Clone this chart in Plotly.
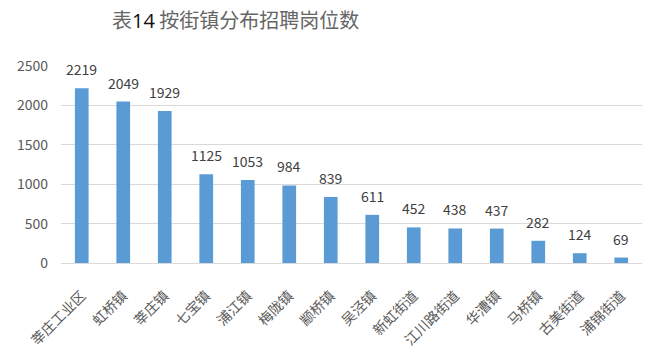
import plotly.graph_objects as go

categories = ["莘庄工业区", "虹桥镇", "莘庄镇", "七宝镇", "浦江镇", "梅陇镇", "颛桥镇",
              "吴泾镇", "新虹街道", "江川路街道", "华漕镇", "马桥镇", "古美街道", "浦锦街道"]
values = [2219, 2049, 1929, 1125, 1053, 984, 839, 611, 452, 438, 437, 282, 124, 69]
y_ticks = [0, 500, 1000, 1500, 2000, 2500]

W, H = 660, 357
L, R, T, B = 61, 18, 66, 94

fig = go.Figure(go.Bar(
    x=categories, y=values,
    marker=dict(color="#5B9BD5", line=dict(width=0)),
    hoverinfo="x+y",
))

label_annots = [
    dict(x=c, y=v, xref="x", yref="y", text=str(v), showarrow=False,
         yanchor="middle", yshift=19,
         font=dict(family="Noto Sans CJK SC, Noto Sans, sans-serif", size=14, color="#404040"))
    for c, v in zip(categories, values)
]

title_annot = dict(
    text="表<span style='color:#111111;font-family:Open Sans, sans-serif'>14</span> 按街镇分布招聘岗位数",
    x=(235 - L) / (W - L - R), y=1 + (T - 20) / (H - T - B),
    xref="paper", yref="paper", xanchor="center", yanchor="middle", showarrow=False,
    font=dict(size=20, color="#666666", family="Noto Sans CJK SC, sans-serif"),
)

fig.update_layout(
    width=W, height=H,
    margin=dict(l=L, r=R, t=T, b=B, autoexpand=False),
    paper_bgcolor="white", plot_bgcolor="white",
    bargap=0.67,
    showlegend=False,
    font=dict(family="Noto Sans CJK SC, sans-serif", color="#595959"),
    xaxis=dict(tickangle=-45, tickfont=dict(size=14, color="#595959"),
               showline=True, linecolor="#D9D9D9", linewidth=1, ticks="",
               ticklabelstandoff=18),
    yaxis=dict(range=[0, 2500], tickvals=y_ticks, showgrid=True, gridcolor="#D9D9D9",
               gridwidth=1, zeroline=False, tickfont=dict(size=14, color="#595959"),
               ticklabelstandoff=12),
    annotations=label_annots + [title_annot],
)

fig.write_html("out.html", config={"displayModeBar": False},
               post_script="document.body.style.margin='0';")
